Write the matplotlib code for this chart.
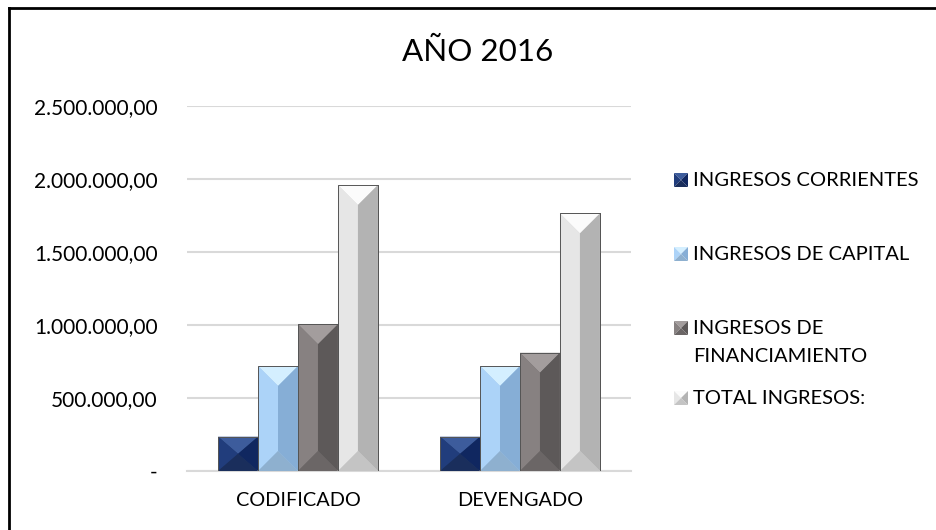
import matplotlib
matplotlib.use('Agg')
import matplotlib.pyplot as plt
from matplotlib.patches import Polygon
from matplotlib.lines import Line2D
import numpy as np

plt.rcParams['font.family'] = ['Lato', 'DejaVu Sans']

# data
categories = ['CODIFICADO', 'DEVENGADO']
series = ['INGRESOS CORRIENTES', 'INGRESOS DE CAPITAL',
          'INGRESOS DE\nFINANCIAMIENTO', 'TOTAL INGRESOS:']
corrientes = [235000, 235000]
capital = [719000, 719000]
financiamiento = [1005000, 810000]
total = [1959000, 1764000]
values = [corrientes, capital, financiamiento, total]
yticks = [0, 500000, 1000000, 1500000, 2000000, 2500000]
ytick_labels = ['-', '500.000,00', '1.000.000,00', '1.500.000,00',
                '2.000.000,00', '2.500.000,00']

# facet colours: base, top, left, right, bottom
palettes = [
    ('#1f3868', '#3d5c9c', '#213d7c', '#102760', '#1a2e5c'),
    ('#9cc3eb', '#d4efff', '#acd3f8', '#86aed6', '#8eb0cf'),
    ('#747070', '#a39d9d', '#878181', '#5d5959', '#6b6666'),
    ('#d8d8d8', '#fbfbfb', '#e6e6e6', '#b3b3b3', '#c4c4c4'),
]

W, H = 936, 530
fig = plt.figure(figsize=(W / 100, H / 100), dpi=100)
ax = fig.add_axes([187 / W, 1 - 471 / H, 444 / W, 365 / H])

x = np.arange(len(categories))
bw = 0.18
bars = []
for i, vals in enumerate(values):
    b = ax.bar(x + (i - 1.5) * bw, vals, bw, color=palettes[i][0],
               edgecolor='#4a4a4a', linewidth=0.6, zorder=2)
    bars.append(b)

ax.set_xlim(-0.5, 1.5)
ax.set_ylim(0, 2500000)
ax.set_yticks(yticks)
ax.set_yticklabels(ytick_labels, fontsize=15)
ax.set_xticks(x)
ax.set_xticklabels(categories, fontsize=14.3)
ax.tick_params(axis='both', length=0)
ax.tick_params(axis='y', pad=21)
ax.tick_params(axis='x', pad=15)
ax.yaxis.grid(True, color='#d9d9d9', linewidth=1.5, zorder=0)
ax.set_axisbelow(True)
for s in ['top', 'right', 'left']:
    ax.spines[s].set_visible(False)
ax.spines['bottom'].set_color('#d9d9d9')
ax.spines['bottom'].set_linewidth(1.5)


def bevel_polys(x0, y0, x1, y1):
    # pyramid-like bevel facets in pixel coords
    w, h = x1 - x0, y1 - y0
    d = min(w / 2, h / 2)
    xc = (x0 + x1) / 2
    top = (xc, y1 - d)
    bot = (xc, y0 + d)
    return [
        [(x0, y1), (x1, y1), top],
        [(x0, y1), top, bot, (x0, y0)],
        [(x1, y1), top, bot, (x1, y0)],
        [(x0, y0), (x1, y0), bot],
    ]


inv = ax.transData.inverted()
for i, b in enumerate(bars):
    cols = palettes[i][1:]
    for rect in b:
        (px0, py0), (px1, py1) = ax.transData.transform(
            [(rect.get_x(), 0), (rect.get_x() + rect.get_width(), rect.get_height())])
        for poly, c in zip(bevel_polys(px0, py0, px1, py1), cols):
            ax.add_patch(Polygon(inv.transform(poly), closed=True,
                                 facecolor=c, edgecolor='none', zorder=3))
        ax.add_patch(Polygon(inv.transform([(px0, py0), (px0, py1), (px1, py1), (px1, py0)]),
                             closed=True, facecolor='none',
                             edgecolor='#555555', linewidth=0.7, zorder=4))

# legend, drawn by hand (Excel places multi-line entries unevenly)
figinv = fig.transFigure.inverted()
leg_y = [180, 254, 328, 398]
for i, (lab, yy) in enumerate(zip(series, leg_y)):
    s = 14
    x0, x1 = 674, 674 + s
    y0, y1 = H - yy - s / 2, H - yy + s / 2
    for poly, c in zip(bevel_polys(x0, y0, x1, y1), palettes[i][1:]):
        fig.add_artist(Polygon(figinv.transform(poly), closed=True,
                               facecolor=c, edgecolor='none'))
    fig.text(693 / W, 1 - (yy - 8) / H, lab, fontsize=14.5, va='top',
             ha='left', linespacing=1.75)

fig.text(478 / W, 1 - 52 / H, 'AÑO 2016', fontsize=22.6, ha='center',
         va='center')

# chart border (only top and left edges visible in crop)
fig.add_artist(Line2D([8.5 / W, 8.5 / W], [0, 1 - 7.5 / H],
                      color='black', linewidth=2))
fig.add_artist(Line2D([8.5 / W, 1], [1 - 7.5 / H, 1 - 7.5 / H],
                      color='black', linewidth=2))

fig.savefig('out.png', dpi=100)
